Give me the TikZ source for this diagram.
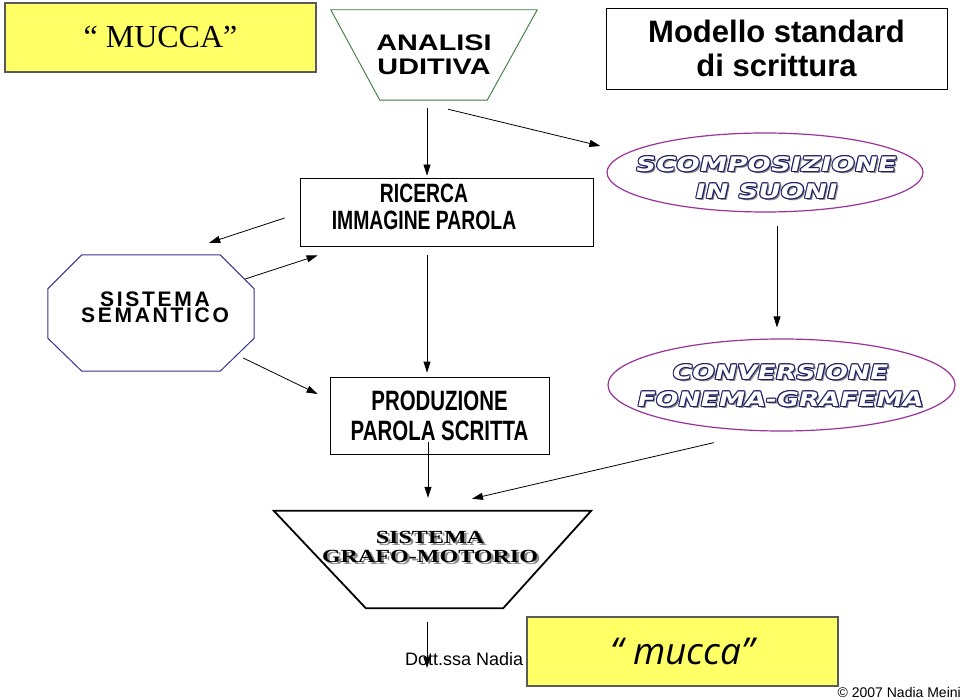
\documentclass[tikz,border=0pt]{standalone}
\usepackage{fontspec}
\usetikzlibrary{arrows.meta,shapes.geometric}
\setmainfont{Liberation Sans}
\newfontfamily\timesfont{Liberation Serif}
\newfontfamily\narrowfont{Liberation Sans}[FakeStretch=0.73]
\newfontfamily\widefont{Liberation Sans}[FakeStretch=1.28]
\newfontfamily\spacedfont{Liberation Sans}[LetterSpace=13]
\newfontfamily\outlinefont{DejaVu Sans}[FakeStretch=1.33,FakeSlant=0.22]
\newfontfamily\outlinewide{DejaVu Sans}[FakeStretch=1.38,FakeSlant=0.22]
\newfontfamily\serifwide{Liberation Serif}[FakeStretch=1.3]
\newfontfamily\handfont{Open Sans}

\definecolor{noteyellow}{HTML}{FFFF66}
\definecolor{notegray}{HTML}{5A5A5A}
\definecolor{anagreen}{HTML}{3C7A3C}
\definecolor{ovalpurple}{HTML}{993399}
\definecolor{octblue}{HTML}{33338F}
\definecolor{outlineblue}{HTML}{1F1F66}
\definecolor{shadowgray}{HTML}{8C8C8C}

% outlined and shadowed lettering
\newcommand\olay[3]{\makebox[0pt][l]{\kern#1\raisebox{#2}{\color{outlineblue}#3}}}
\newcommand\outl[1]{%
  \makebox[0pt][l]{\kern2pt\raisebox{-2pt}{\color{shadowgray}#1}}%
  \olay{-1.1pt}{0pt}{#1}\olay{1.1pt}{0pt}{#1}\olay{0pt}{1.1pt}{#1}\olay{0pt}{-1.1pt}{#1}%
  \olay{0.8pt}{0.8pt}{#1}\olay{-0.8pt}{0.8pt}{#1}\olay{0.8pt}{-0.8pt}{#1}\olay{-0.8pt}{-0.8pt}{#1}%
  {\color{white}#1}}
\newcommand\shad[1]{\makebox[0pt][l]{\kern2.5pt\raisebox{-2.5pt}{\color{shadowgray}#1}}#1}

\tikzset{
  notebox/.style={draw=notegray, line width=1.3pt, fill=noteyellow, minimum width=311, minimum height=69, inner sep=0},
  plainbox/.style={draw, line width=0.8pt, inner sep=0},
  oval/.style={draw=ovalpurple, line width=1.2pt, ellipse, inner sep=0},
  arr/.style={->, line width=0.8pt}
}

\begin{document}
\begin{tikzpicture}[x=1pt, y=-1pt, >={Triangle[length=11pt,width=7pt]}]
\fill[white] (0,0) rectangle (960,700);
\useasboundingbox (0,0) rectangle (960,700);

% top row
\node[notebox, font=\timesfont\fontsize{32}{38}\selectfont] (word) at (160.5,37.5) {“ MUCCA”};
\node[minimum width=206, minimum height=90, inner sep=0, align=center, font=\widefont\bfseries\fontsize{22.5}{24}\selectfont] (ana) at (434,55) {ANALISI\\UDITIVA};
\draw[anagreen, line width=0.9pt] (ana.north west) -- (ana.north east) -- ([xshift=-50]ana.south east) -- ([xshift=49]ana.south west) -- cycle;
\node[plainbox, minimum width=341, minimum height=81, align=center, font=\bfseries\fontsize{31}{34}\selectfont] (model) at (776.5,48.5) {Modello standard\\di scrittura};

% second row
\node[plainbox, minimum width=293, minimum height=68] (ric) at (446.5,212) {};
\node[align=center, inner sep=0, font=\narrowfont\bfseries\fontsize{26.5}{27}\selectfont] (rictext) at (424,207) {RICERCA\\IMMAGINE PAROLA};
\node[oval, minimum width=316, minimum height=79] (scomp) at (765,172.5) {};
\node[align=center, inner sep=0, font=\outlinewide\bfseries\fontsize{20}{27}\selectfont] (scomptext) at (765,178) {\outl{SCOMPOSIZIONE}\\\outl{IN SUONI}};

% semantic system
\node[minimum width=206, minimum height=116, inner sep=0] (sem) at (151,313) {};
\draw[octblue, line width=1pt] ([xshift=34]sem.north west) -- ([xshift=-34]sem.north east) -- ([yshift=-34]sem.north east) -- ([yshift=33]sem.south east) -- ([xshift=-34]sem.south east) -- ([xshift=34]sem.south west) -- ([yshift=33]sem.south west) -- ([yshift=-34]sem.north west) -- cycle;
\node[align=center, inner sep=0, font=\spacedfont\bfseries\fontsize{21}{16}\selectfont] (semtext) at (155,307) {SISTEMA\\SEMANTICO};

% third row
\node[plainbox, minimum width=219, minimum height=77, align=center, font=\narrowfont\bfseries\fontsize{28}{30}\selectfont] (prod) at (439.5,415.5) {PRODUZIONE\\PAROLA SCRITTA};
\node[oval, minimum width=347, minimum height=92] (conv) at (781.5,385) {};
\node[align=center, inner sep=0, font=\outlinefont\bfseries\fontsize{20}{27}\selectfont] (convtext) at (779,386) {\outl{CONVERSIONE}\\\outl{FONEMA-GRAFEMA}};

% grapho-motor system
\node[minimum width=317, minimum height=97, inner sep=0] (gm) at (432.5,559.5) {};
\draw[line width=1.8pt, line join=miter] (gm.north west) -- (gm.north east) -- ([xshift=-88]gm.south east) -- ([xshift=92]gm.south west) -- cycle;
\node[align=center, inner sep=0, font=\serifwide\bfseries\fontsize{18.5}{19}\selectfont] (gmtext) at (430,548) {\shad{SISTEMA}\\\shad{GRAFO-MOTORIO}};

% footer
\node[anchor=base west, inner sep=0, font=\fontsize{18}{20}\selectfont] (dott) at (405,665) {Dott.ssa Nadia};
\coordinate (out) at (427,668);
\node[anchor=base east, inner sep=0, font=\fontsize{14}{16}\selectfont] (copy) at (961,697) {© 2007 Nadia Meini};

% connections
\draw[arr] ([xshift=-7,yshift=-8]ana.south) -- ([xshift=-19.5,yshift=2]ric.north);
\draw[arr] ([xshift=14,yshift=-9]ana.south) -- ([xshift=-6,yshift=26.5]scomp.west);
\draw[arr] ([xshift=-15,yshift=-6]ric.west) -- ([xshift=-45,yshift=12]sem.north east);
\draw[arr] ([xshift=-9,yshift=34]sem.east) -- ([xshift=18,yshift=-9]ric.south west);
\draw[arr] ([xshift=-19.5,yshift=-9]ric.south) -- ([xshift=-12.5,yshift=4]prod.north);
\draw[arr] ([xshift=-11,yshift=-45]sem.east) -- ([xshift=-12,yshift=21.5]prod.west);
\draw[arr] ([xshift=12,yshift=-13]scomp.south) -- ([xshift=-4.5,yshift=11]conv.north);
\draw[arr] ([xshift=-67.5,yshift=-11]conv.south) -- ([xshift=39.5,yshift=12]gm.north);
\draw[arr] ([xshift=-11.5,yshift=12]prod.south) -- ([xshift=-4.5,yshift=13]gm.north);
\draw[arr] ([xshift=-5.5,yshift=-14]gm.south) -- (out);

\node[notebox, font=\handfont\itshape\fontsize{37}{40}\selectfont] (word2) at (682.5,651.5) {“ mucca”};
\end{tikzpicture}
\end{document}
